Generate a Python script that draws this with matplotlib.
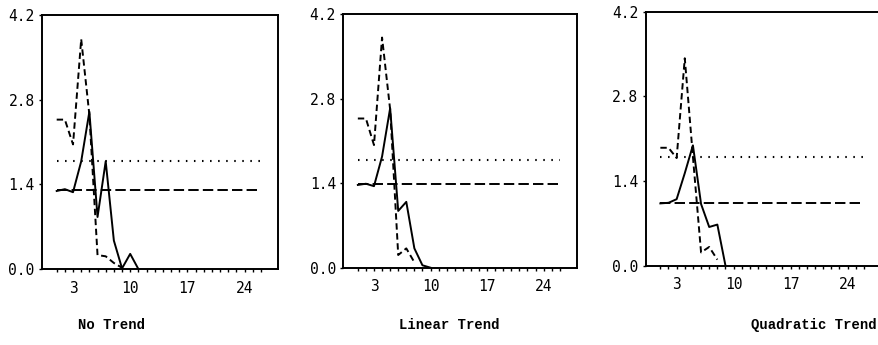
import matplotlib
matplotlib.use('Agg')
import matplotlib.pyplot as plt
from matplotlib.ticker import FixedLocator, FormatStrFormatter

plt.rcParams['lines.scale_dashes'] = False

W, H = 879, 345
DPI = 100

titles = ["No Trend", "Linear Trend", "Quadratic Trend"]

# series values (lag 1, 2, 3, ...)
solid_no = [1.29, 1.32, 1.27, 1.78, 2.60, 0.86, 1.78, 0.47, 0.01, 0.25, 0.0]
dashed_no = [2.47, 2.47, 2.06, 3.80, 2.55, 0.23, 0.21, 0.10, 0.02]
dotted_no = 1.78
refdash_no = 1.30

solid_lin = [1.37, 1.39, 1.35, 1.84, 2.64, 0.94, 1.09, 0.32, 0.04, 0.0]
dashed_lin = [2.47, 2.47, 2.03, 3.81, 2.62, 0.21, 0.32, 0.09]
dotted_lin = 1.78
refdash_lin = 1.38

solid_quad = [1.03, 1.04, 1.10, 1.53, 1.99, 1.02, 0.64, 0.68, 0.0]
dashed_quad = [1.95, 1.95, 1.78, 3.43, 1.80, 0.22, 0.31, 0.10]
dotted_quad = 1.80
refdash_quad = 1.03

lag_min, lag_max = 1, 26
x_labels = [3, 10, 17, 24]
y_ticks = [0.0, 1.4, 2.8, 4.2]

panels = [
    (titles[0], solid_no, dashed_no, dotted_no, refdash_no),
    (titles[1], solid_lin, dashed_lin, dotted_lin, refdash_lin),
    (titles[2], solid_quad, dashed_quad, dotted_quad, refdash_quad),
]

# pixel boxes: left, top, right, bottom
boxes = [(42, 15, 278, 269), (343.3, 14, 576.7, 267.7), (645.7, 11.7, 881, 265.7)]
title_x = [112, 449, 814]
title_y = 325

fig = plt.figure(figsize=(W / DPI, H / DPI), dpi=DPI)
fig.patch.set_facecolor('white')

for (title, solid, dashed, dotted, refdash), (l, t, r, b), tx in zip(panels, boxes, title_x):
    ax = fig.add_axes([l / W, (H - b) / H, (r - l) / W, (b - t) / H])
    xs_s = list(range(1, len(solid) + 1))
    xs_d = list(range(1, len(dashed) + 1))
    ax.hlines(dotted, lag_min, lag_max, colors='black', linewidth=1.5,
              linestyles=(0, (1.1, 4.7)))
    ax.hlines(refdash, lag_min, lag_max, colors='black', linewidth=1.4,
              linestyles=(0, (7.5, 3.0)))
    ax.plot(xs_d, dashed, color='black', linewidth=1.4, dashes=(4.6, 2.6))
    ax.plot(xs_s, solid, color='black', linewidth=1.4)

    ax.set_xlim(-0.8, 28.1)
    ax.set_ylim(0, 4.2)
    ax.xaxis.set_major_locator(FixedLocator(x_labels))
    ax.xaxis.set_minor_locator(FixedLocator(list(range(lag_min, lag_max + 1))))
    ax.yaxis.set_major_locator(FixedLocator(y_ticks))
    ax.yaxis.set_major_formatter(FormatStrFormatter('%.1f'))
    ax.tick_params(axis='both', which='both', direction='out', length=2.3, width=1.0,
                   top=False, right=False)
    ax.tick_params(axis='x', which='major', pad=6)
    ax.tick_params(axis='y', which='major', pad=3)
    for lab in ax.get_xticklabels() + ax.get_yticklabels():
        lab.set_fontfamily('DejaVu Sans Mono')
        lab.set_fontsize(10.5)
    for sp in ax.spines.values():
        sp.set_linewidth(1.4)

    fig.text(tx / W, 1 - title_y / H, title, ha='center', va='center',
             family='Liberation Mono', weight='bold', fontsize=10)

fig.savefig('out.png', dpi=DPI, facecolor='white')
